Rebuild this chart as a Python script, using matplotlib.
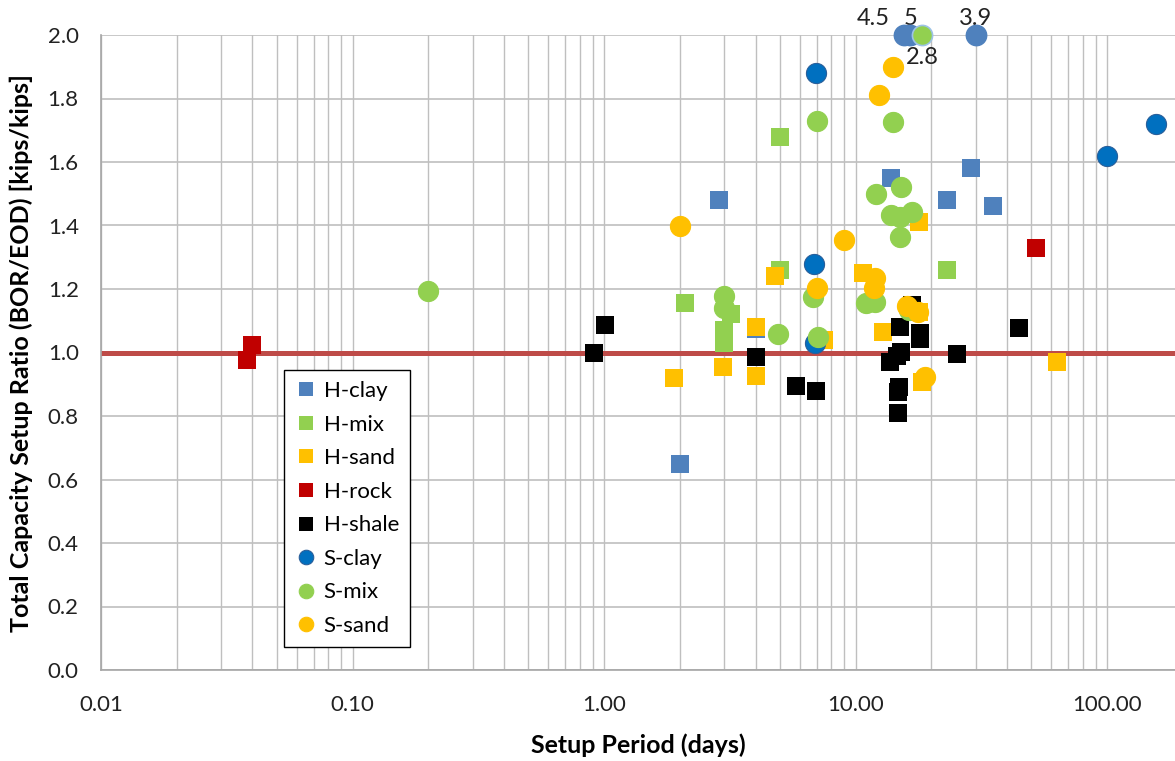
import matplotlib
matplotlib.use("Agg")
import matplotlib.pyplot as plt
import numpy as np

plt.rcParams['font.family'] = ['Lato', 'DejaVu Sans']

# setup period (days) and BOR/EOD ratio for each soil/pile group
hclay_t = [2.87, 13.8, 23.1, 28.7, 35.3, 4.0, 2.0]
hclay_r = [1.48, 1.55, 1.48, 1.58, 1.46, 1.075, 0.65]

hmix_t = [5.0, 5.0, 2.09, 3.2, 3.0, 3.0, 3.0, 23.1]
hmix_r = [1.68, 1.26, 1.155, 1.12, 1.07, 1.05, 1.03, 1.26]

hsand_t = [4.8, 10.7, 17.9, 12.9, 17.8, 4.0, 7.5, 2.98, 1.9, 4.0, 18.4, 63.4]
hsand_r = [1.24, 1.25, 1.41, 1.066, 1.128, 1.08, 1.04, 0.955, 0.92, 0.925, 0.908, 0.97]

hrock_t = [0.038, 0.040, 52.2]
hrock_r = [0.975, 1.025, 1.33]

hshale_t = [0.91, 1.01, 4.0, 5.8, 6.95, 16.7, 15.0, 18.0, 18.1, 15.2, 14.6,
            13.7, 14.9, 14.8, 14.8, 25.3, 44.8]
hshale_r = [1.0, 1.087, 0.987, 0.896, 0.88, 1.15, 1.079, 1.06, 1.044, 1.003, 0.99,
            0.971, 0.892, 0.875, 0.808, 0.995, 1.078]

sclay_t = [6.95, 157.0, 100.0, 6.8, 6.9]
sclay_r = [1.88, 1.72, 1.62, 1.28, 1.03]

smix_t = [0.2, 7.0, 14.1, 12.1, 15.1, 13.8, 15.0, 16.7, 15.0, 11.0, 11.9, 16.3,
          3.0, 3.0, 6.76, 4.9, 7.1]
smix_r = [1.195, 1.73, 1.727, 1.50, 1.52, 1.433, 1.428, 1.443, 1.365, 1.155, 1.16, 1.134,
          1.178, 1.139, 1.176, 1.057, 1.048]

ssand_t = [2.0, 9.0, 12.4, 14.1, 11.9, 11.8, 7.0, 16.0, 17.7, 18.9]
ssand_r = [1.40, 1.354, 1.81, 1.90, 1.234, 1.202, 1.202, 1.146, 1.128, 0.924]

# ratios above the axis limit, drawn at the top edge with their value
high_t = [15.5, 16.5, 30.0, 18.4]
high_r = [4.5, 5.0, 3.9, 2.8]
high_fc = ['#4F81BD', '#4F81BD', '#4F81BD', '#92D050']
high_ec = ['#4F81BD', '#4F81BD', '#4F81BD', '#9DC3E6']
high_off = [(-22, 12), (0, 12), (0, 12), (0, -16)]

y_max = 2.0
x_ticks = [0.01, 0.1, 1, 10, 100]
x_ticklabels = ['0.01', '0.10', '1.00', '10.00', '100.00']
y_ticks = np.arange(0, 2.01, 0.2)

fig = plt.figure(figsize=(11.75, 7.61), dpi=100)
ax = fig.add_axes([101 / 1175, 91 / 761, 1074 / 1175, 635 / 761])

ax.set_xscale('log')
ax.set_xlim(0.01, 186)
ax.set_ylim(0, y_max)

ax.grid(True, which='both', axis='x', color='#BFBFBF', linewidth=1.0, zorder=0)
ax.grid(True, which='major', axis='y', color='#BFBFBF', linewidth=1.2, zorder=0)
ax.set_axisbelow(True)

ax.axhline(1.0, color='#BE4B48', linewidth=3.6, zorder=1)

sq = dict(linestyle='none', marker='s', markersize=13.5, markeredgewidth=0, zorder=3)
ci = dict(linestyle='none', marker='o', markersize=14.5, markeredgewidth=0.8, zorder=3)

ax.plot(hclay_t, hclay_r, color='#4F81BD', label='H-clay', **sq)
ax.plot(hmix_t, hmix_r, color='#92D050', label='H-mix', **sq)
ax.plot(hsand_t, hsand_r, color='#FFC000', label='H-sand', **sq)
ax.plot(hrock_t, hrock_r, color='#C00000', label='H-rock', **sq)
ax.plot(hshale_t, hshale_r, color='#000000', label='H-shale', **sq)
ax.plot(sclay_t, sclay_r, color='#0070C0', markeredgecolor='#2A5F9A', label='S-clay', **ci)
ax.plot(smix_t, smix_r, color='#92D050', markeredgecolor='#92D050', label='S-mix', **ci)
ax.plot(ssand_t, ssand_r, color='#FFC000', markeredgecolor='#FFC000', label='S-sand', **ci)

for t, r, fc, ec, off in zip(high_t, high_r, high_fc, high_ec, high_off):
    ax.plot([t], [min(r, y_max)], linestyle='none', marker='o', markersize=14.5,
            markerfacecolor=fc, markeredgecolor=ec, markeredgewidth=1.2,
            zorder=4, clip_on=False)
    ax.annotate(f'{r:g}', (t, min(r, y_max)), xytext=off, textcoords='offset points',
                ha='center', va='center', fontsize=17, color='#222222',
                annotation_clip=False)

ax.set_xticks(x_ticks)
ax.set_xticklabels(x_ticklabels)
ax.set_yticks(y_ticks)
ax.set_yticklabels([f'{v:.1f}' for v in y_ticks])
ax.tick_params(axis='both', which='both', length=0, labelsize=16, colors='#222222')
ax.tick_params(axis='x', pad=18)
ax.tick_params(axis='y', pad=16)

for side in ['top', 'right']:
    ax.spines[side].set_visible(False)
for side in ['left', 'bottom']:
    ax.spines[side].set_color('#A6A6A6')
    ax.spines[side].set_linewidth(1.2)

ax.set_xlabel('Setup Period (days)', fontsize=18, fontweight='bold', va='center')
ax.set_ylabel('Total Capacity Setup Ratio (BOR/EOD) [kips/kips]', fontsize=18,
              fontweight='bold', va='center')
ax.xaxis.set_label_coords(0.5, -0.118)
ax.yaxis.set_label_coords(-0.0745, 0.5)

leg = ax.legend(loc='lower left', bbox_to_anchor=(0.170, 0.036), borderaxespad=0,
                fontsize=16, markerscale=0.72, handletextpad=0.3, handlelength=1.0,
                labelspacing=0.61, borderpad=0.5, fancybox=False, framealpha=1)
leg.get_frame().set_edgecolor('#000000')
leg.get_frame().set_linewidth(1.0)

fig.savefig('out.png', dpi=100)
